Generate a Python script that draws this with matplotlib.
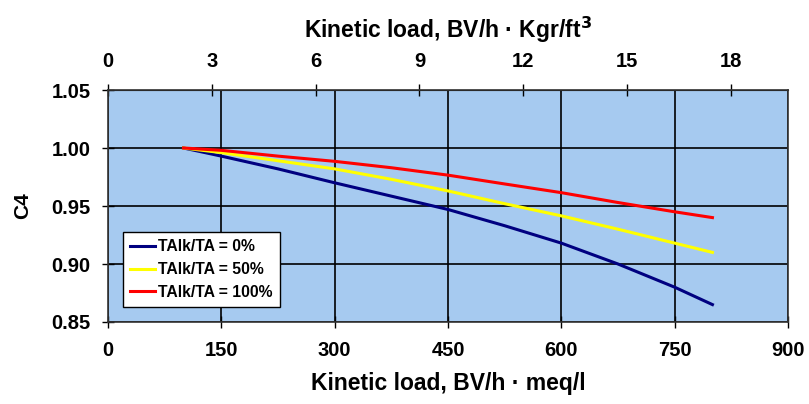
import matplotlib.pyplot as plt

plt.rcParams["font.family"] = ["Liberation Sans", "DejaVu Sans"]
plt.rcParams["font.weight"] = "bold"

# Kinetic load (BV/h * meq/l) and C4 values
load = [100, 150, 225, 300, 375, 450, 525, 600, 675, 750, 800]
c4_0 = [1.000, 0.993, 0.982, 0.970, 0.9585, 0.947, 0.933, 0.918, 0.900, 0.880, 0.865]
c4_50 = [1.000, 0.996, 0.989, 0.982, 0.973, 0.963, 0.952, 0.9415, 0.930, 0.918, 0.910]
c4_100 = [1.000, 0.998, 0.993, 0.9885, 0.983, 0.9766, 0.969, 0.9615, 0.953, 0.945, 0.940]
labels = ["TAlk/TA = 0%", "TAlk/TA = 50%", "TAlk/TA = 100%"]

MEQ_PER_KGR = 45.8  # 1 Kgr/ft3 as CaCO3 in meq/l

fig = plt.figure(figsize=(8.09, 4.04), dpi=100)
ax = fig.add_axes([108 / 809, 1 - 322 / 404, 680 / 809, 232 / 404])
ax.set_facecolor("#A6CAF0")

ax.plot(load, c4_0, color="#000080", lw=2.2, label=labels[0])
ax.plot(load, c4_50, color="#FFFF00", lw=2.2, label=labels[1])
ax.plot(load, c4_100, color="#FF0000", lw=2.2, label=labels[2])

ax.set_xlim(0, 900)
ax.set_ylim(0.85, 1.05)
ax.set_xticks(range(0, 901, 150))
ax.set_yticks([0.85, 0.90, 0.95, 1.00, 1.05])
ax.set_yticklabels(["0.85", "0.90", "0.95", "1.00", "1.05"])
ax.grid(True, color="black", lw=1.2)
ax.set_axisbelow(True)
for s in ax.spines.values():
    s.set_color("#333333")
    s.set_linewidth(1.2)
ax.tick_params(axis="x", direction="inout", length=9, width=1, labelsize=14.5, pad=9)
ax.tick_params(axis="y", direction="inout", length=9, width=1, labelsize=14.5, pad=8)

ax.set_xlabel("Kinetic load, BV/h · meq/l", fontsize=16.5, fontweight="bold", labelpad=9)
ax.set_ylabel("C4", fontsize=15, fontweight="bold", labelpad=14)

top = ax.secondary_xaxis("top", functions=(lambda x: x / MEQ_PER_KGR,
                                             lambda x: x * MEQ_PER_KGR))
top.set_xticks(range(0, 19, 3))
top.tick_params(direction="inout", length=9, width=1, labelsize=14.5, pad=9)
top.set_xlabel("Kinetic load, BV/h · Kgr/ft$^3$", fontsize=16.5, fontweight="bold", labelpad=10)

leg = ax.legend(loc="lower left", bbox_to_anchor=(15 / 680, 15 / 232), fontsize=11.3,
                frameon=True, fancybox=False, framealpha=1, handlelength=1.6,
                handletextpad=0.2, borderpad=0.45, labelspacing=0.5, borderaxespad=0)
leg.get_frame().set_edgecolor("black")
leg.get_frame().set_linewidth(1)
for t in leg.get_texts():
    t.set_fontweight("bold")

fig.savefig("out.png", dpi=100)
